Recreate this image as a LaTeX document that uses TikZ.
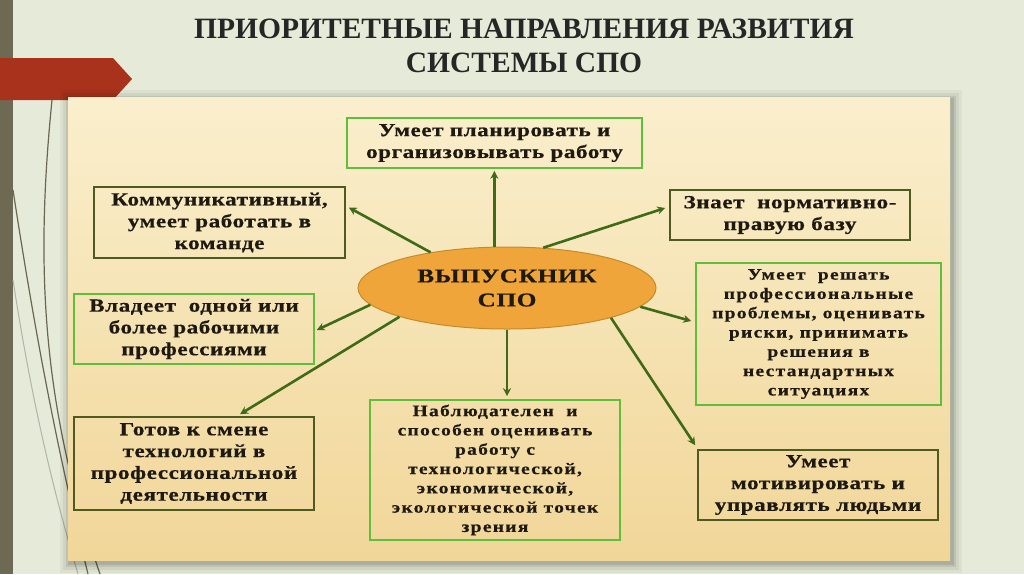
\documentclass[tikz,border=0pt]{standalone}
\usepackage{fontspec}
\setmainfont{Liberation Serif}
\newfontfamily\boxfont{Liberation Serif}[FakeStretch=1.25,LetterSpace=3,FakeBold=0.6]
\newfontfamily\smallboxfont{Liberation Serif}[FakeStretch=1.22,LetterSpace=8,FakeBold=0.5]
\newfontfamily\ellfont{Liberation Serif}[FakeStretch=1.3,LetterSpace=3,FakeBold=0.6]
\usetikzlibrary{shapes.geometric,arrows.meta,calc}
\definecolor{slidebg}{HTML}{E5EBD8}
\definecolor{leftbar}{HTML}{6E6953}
\definecolor{banner}{HTML}{A9321C}
\definecolor{paneltop}{HTML}{FAEFCD}
\definecolor{panelbot}{HTML}{F1D698}
\definecolor{gline}{HTML}{5FBE3C}
\definecolor{oline}{HTML}{4E5A22}
\definecolor{arrowc}{HTML}{3F6B18}
\definecolor{ellfill}{HTML}{EFA53A}
\definecolor{elldraw}{HTML}{C68A2C}
\definecolor{titlec}{HTML}{262626}
\definecolor{txt}{HTML}{1E1A12}
\definecolor{deco}{HTML}{6B6651}
\tikzset{
  gbox/.style={draw=gline, line width=1.6pt, align=center, inner sep=0pt, text=txt},
  obox/.style={draw=oline, line width=1.6pt, align=center, inner sep=0pt, text=txt},
  bigtxt/.style={font=\boxfont\bfseries\fontsize{18.5}{21.8}\selectfont},
  smalltxt/.style={font=\smallboxfont\bfseries\fontsize{16}{19.3}\selectfont},
  arr/.style={draw=arrowc, line width=2.6pt, -{Stealth[length=8pt,width=8pt]}},
}
\begin{document}
\begin{tikzpicture}[x=1pt,y=-1pt]
\useasboundingbox (0,0) rectangle (1024,574);
% slide background
\fill[slidebg] (0,0) rectangle (1024,574);
\fill[leftbar] (0,0) rectangle (13,574);
% decorative curves
\draw[deco, line width=1.2pt] (52,100) .. controls (36,260) and (40,400) .. (100,574);
\draw[deco, line width=1.2pt] (13,190) .. controls (30,300) and (52,430) .. (88,574);
\draw[deco!50, line width=1pt] (13,280) .. controls (30,390) and (50,480) .. (78,574);
% banner
\fill[banner] (0,58) -- (113,58) -- (132,79) -- (113,100) -- (0,100) -- cycle;
% title
\node[text=titlec, font=\bfseries\fontsize{29.5}{34}\selectfont, align=center] (title) at (524,46)
  {ПРИОРИТЕТНЫЕ НАПРАВЛЕНИЯ РАЗВИТИЯ\\СИСТЕМЫ СПО};
% panel shadow
\foreach \d/\o in {10/0.04,7/0.06,4/0.08,2/0.10}{
  \fill[black, opacity=\o] (68-\d+2,97-\d+3) rectangle (950+\d+2,560+\d+3);
}
\shade[top color=paneltop, bottom color=panelbot] (68,97) rectangle (950,560);
% central ellipse
\node[ellipse, fill=ellfill, draw=elldraw, line width=1pt, minimum width=298pt, minimum height=82pt,
  align=center, text=txt, font=\ellfont\bfseries\fontsize{19.5}{24}\selectfont] (ell) at (507,288)
  {ВЫПУСКНИК\\СПО};
% boxes
\node[gbox, bigtxt, minimum width=295pt, minimum height=50pt] (b1) at (494.5,143)
  {Умеет планировать и\\организовывать работу};
\node[obox, bigtxt, minimum width=251pt, minimum height=71pt] (b2) at (219.5,222.5)
  {Коммуникативный,\\умеет работать в\\команде};
\node[obox, bigtxt, minimum width=240pt, minimum height=50pt] (b3) at (790,215)
  {Знает\ \ нормативно-\\правую базу};
\node[gbox, smalltxt, minimum width=245pt, minimum height=142pt] (b4) at (818.5,334)
  {Умеет\ \ решать\\профессиональные\\проблемы, оценивать\\риски, принимать\\решения в\\нестандартных\\ситуациях};
\node[gbox, bigtxt, minimum width=240pt, minimum height=70pt] (b5) at (194,329)
  {Владеет\ \ одной или\\более рабочими\\профессиями};
\node[obox, bigtxt, minimum width=240pt, minimum height=93pt] (b6) at (194,463.5)
  {Готов к смене\\технологий в\\профессиональной\\деятельности};
\node[gbox, smalltxt, minimum width=250pt, minimum height=140pt] (b7) at (495,470)
  {Наблюдателен\ \ и\\способен оценивать\\работу с\\технологической,\\экономической,\\экологической точек\\зрения};
\node[obox, bigtxt, minimum width=240pt, minimum height=70pt] (b8) at (818,485)
  {Умеет\\мотивировать и\\управлять людьми};
% arrows
\draw[arr] (ell.107) -- ($(ell.107 |- b1.south)+(0,2)$);
\draw[arr] (ell.155.6) -- ($(b2.east)+(3,-15)$);
\draw[arr] (ell.48) -- ($(b3.west)+(-4,-7)$);
\draw[arr] (ell.352.4) -- ($(b4.west)+(-4,-13)$);
\draw[arr] (ell.187) -- ($(b5.east)+(2,1)$);
\draw[arr] (ell.195.9) -- ($(b6.north)+(46,-2)$);
\draw[arr] (ell.south) -- ($(ell.south |- b7.north)+(0,-3)$);
\draw[arr] (ell.344.2) -- ($(b8.north west)+(-2,-4)$);
\end{tikzpicture}
\end{document}
